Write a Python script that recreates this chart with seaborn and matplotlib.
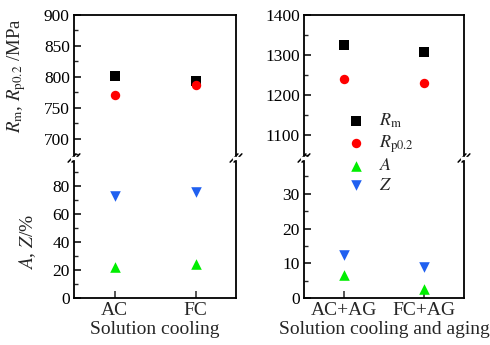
import matplotlib
matplotlib.use("Agg")
import matplotlib.pyplot as plt
import seaborn as sns
import pandas as pd
from matplotlib.ticker import FixedLocator

sns.set_theme(style="ticks")
plt.rcParams['font.family'] = ['Liberation Serif', 'DejaVu Serif']
plt.rcParams['mathtext.fontset'] = 'stix'

# ---- data ----
left_cats = ["AC", "FC"]
right_cats = ["AC+AG", "FC+AG"]
left_Rm = [802, 793]
left_Rp = [771, 787]
left_A = [22, 24]
left_Z = [73, 76]
right_Rm = [1324, 1307]
right_Rp = [1240, 1231]
right_A = [6.5, 2.5]
right_Z = [12.5, 9]

C_RM = "#000000"
C_RP = "#ff0000"
C_A = "#00ee00"
C_Z = "#2060f0"

fig = plt.figure(figsize=(4.9, 3.45), dpi=100)
L0, L1 = 74/490, 236/490
R0, R1 = 304/490, 464/490
ytop = 1 - 15/345
ymid = 1 - 158/345
ybot = 1 - 298/345

axLT = fig.add_axes([L0, ymid, L1-L0, ytop-ymid])
axLB = fig.add_axes([L0, ybot, L1-L0, ymid-ybot])
axRT = fig.add_axes([R0, ymid, R1-R0, ytop-ymid])
axRB = fig.add_axes([R0, ybot, R1-R0, ymid-ybot])

ms = 46
mt = 58

def pts(cats, vals):
    return pd.DataFrame({"x": list(range(len(cats))), "y": vals})

sns.scatterplot(data=pts(left_cats, left_Rm), x="x", y="y", ax=axLT, marker="s", color=C_RM, s=ms, linewidth=0)
sns.scatterplot(data=pts(left_cats, left_Rp), x="x", y="y", ax=axLT, marker="o", color=C_RP, s=ms, linewidth=0)
sns.scatterplot(data=pts(left_cats, left_A), x="x", y="y", ax=axLB, marker="^", color=C_A, s=mt, linewidth=0)
sns.scatterplot(data=pts(left_cats, left_Z), x="x", y="y", ax=axLB, marker="v", color=C_Z, s=mt, linewidth=0)

sns.scatterplot(data=pts(right_cats, right_Rm), x="x", y="y", ax=axRT, marker="s", color=C_RM, s=ms, linewidth=0, label=r"$R_\mathrm{m}$")
sns.scatterplot(data=pts(right_cats, right_Rp), x="x", y="y", ax=axRT, marker="o", color=C_RP, s=ms, linewidth=0, label=r"$R_\mathrm{p0.2}$")
sns.scatterplot(data=pts(right_cats, right_A), x="x", y="y", ax=axRB, marker="^", color=C_A, s=mt, linewidth=0, label=r"$A$")
sns.scatterplot(data=pts(right_cats, right_Z), x="x", y="y", ax=axRB, marker="v", color=C_Z, s=mt, linewidth=0, label=r"$Z$")

handles, labels = [], []
for a in (axRT, axRB):
    h, l = a.get_legend_handles_labels()
    handles += h; labels += l
    if a.get_legend():
        a.get_legend().remove()

axLT.set_ylim(669, 900)
axLB.set_ylim(0, 100)
axRT.set_ylim(1043, 1400)
axRB.set_ylim(0, 40.3)

axLT.yaxis.set_major_locator(FixedLocator([700, 750, 800, 850, 900]))
axLT.yaxis.set_minor_locator(FixedLocator([675, 725, 775, 825, 875]))
axLB.yaxis.set_major_locator(FixedLocator([0, 20, 40, 60, 80]))
axLB.yaxis.set_minor_locator(FixedLocator([10, 30, 50, 70, 90]))
axRT.yaxis.set_major_locator(FixedLocator([1100, 1200, 1300, 1400]))
axRT.yaxis.set_minor_locator(FixedLocator([1050, 1150, 1250, 1350]))
axRB.yaxis.set_major_locator(FixedLocator([0, 10, 20, 30]))
axRB.yaxis.set_minor_locator(FixedLocator([5, 15, 25, 35]))

for a in (axLT, axLB, axRT, axRB):
    a.set_xlim(-0.5, 1.5)

for top, bot, cats in ((axLT, axLB, left_cats), (axRT, axRB, right_cats)):
    top.spines['bottom'].set_visible(False)
    bot.spines['top'].set_visible(False)
    top.set_xticks([])
    bot.set_xticks(range(len(cats)))
    bot.set_xticklabels(cats, fontsize=14)
    for a in (top, bot):
        for s in a.spines.values():
            s.set_linewidth(1.3)
            s.set_color("black")
        a.tick_params(axis='y', which='major', direction='in', length=5, width=1.1, labelsize=12.5, pad=3, colors='black')
        a.tick_params(axis='y', which='minor', direction='in', length=3, width=1.0, left=True)
        a.tick_params(axis='x', which='major', direction='in', length=5, width=1.1, pad=3)
        a.set_xlabel("")
        a.set_ylabel("")
        a.set_facecolor("white")
    kw = dict(color='black', lw=1.1, clip_on=False, transform=fig.transFigure)
    bb = top.get_position()
    for xf in (bb.x0, bb.x1):
        fig.patches.append(plt.Rectangle((xf - 0.006, ymid - 0.004), 0.012, 0.008, transform=fig.transFigure, color='white', zorder=3))
        for off in (-0.004, 0.004):
            fig.lines.append(plt.Line2D([xf - 0.008 + off, xf + 0.008 + off], [ymid - 0.012, ymid + 0.012], **kw))

axLB.set_xlabel("Solution cooling", fontsize=14, labelpad=1)
axRB.set_xlabel("Solution cooling and aging", fontsize=14, labelpad=1)
fig.text(17/490, 1 - 76/345, r"$R_\mathrm{m}$, $R_\mathrm{p0.2}$ /MPa", rotation=90, ha='center', va='center', fontsize=13.5)
fig.text(28/490, 1 - 242/345, r"$A$, $Z$/%", rotation=90, ha='center', va='center', fontsize=14)

fig.legend(handles, labels, loc='center', bbox_to_anchor=(376/490, 1 - 153/345), frameon=False,
           fontsize=13, handletextpad=0.3, labelspacing=0.15, markerscale=1.0)

fig.savefig("out.png", dpi=100, facecolor="white")
